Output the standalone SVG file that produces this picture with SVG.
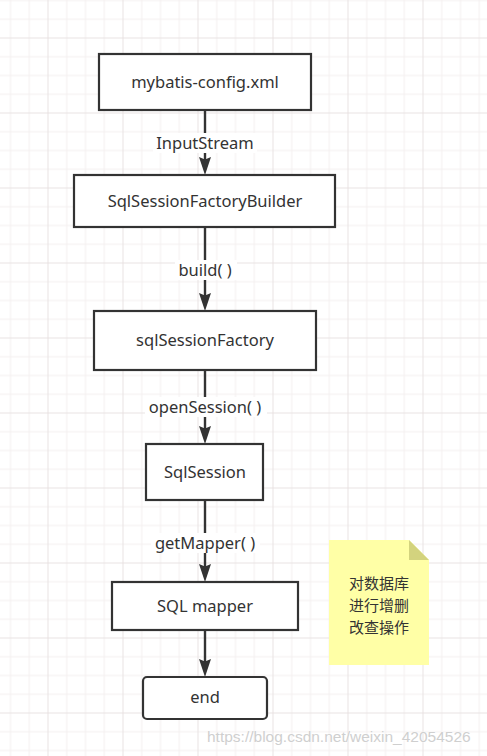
<svg xmlns="http://www.w3.org/2000/svg" xmlns:xlink="http://www.w3.org/1999/xlink" width="487" height="756" viewBox="0 0 487 756">
  <style>
    .box { fill: #ffffff; stroke: #333333; stroke-width: 2.2; }
    .lbl { font-family: "Noto Sans", "Open Sans", sans-serif; font-size: 16.5px; fill: #333333; text-anchor: middle; }
    .edge { stroke: #333333; stroke-width: 2.4; fill: none; }
    .lblbg { fill: #ffffff; }
    .ah { fill: #333333; }
    .note { fill: #ffffa6; }
    .fold { fill: #d3d37e; }
    .cjk { font-family: "Noto Sans CJK SC", "Noto Sans", sans-serif; font-size: 15px; fill: #333333; text-anchor: middle; }
    .wm { font-family: "Liberation Sans", Arial, sans-serif; font-size: 15.5px; fill: #cfcfcf; stroke: #ffffff; stroke-width: 0.6; paint-order: stroke; }
  </style>
  <defs>
    <pattern id="grid" patternUnits="userSpaceOnUse" x="47.5" y="37.5" width="75" height="75">
      <rect x="0" y="0" width="75" height="75" fill="#ffffff"/>
      <rect x="18.75" y="0" width="1" height="75" fill="#f4efef"/>
      <rect x="37.5" y="0" width="1" height="75" fill="#f4efef"/>
      <rect x="56.25" y="0" width="1" height="75" fill="#f4efef"/>
      <rect x="0" y="18.75" width="75" height="1" fill="#f4efef"/>
      <rect x="0" y="37.5" width="75" height="1" fill="#f4efef"/>
      <rect x="0" y="56.25" width="75" height="1" fill="#f4efef"/>
      <rect x="0" y="0" width="1" height="75" fill="#e8e2e2"/>
      <rect x="0" y="0" width="75" height="1" fill="#e8e2e2"/>
    </pattern>
    <path id="arrowhead" class="ah" d="M0,0 L-6,-18 L0,-15.5 L6,-18 Z"/>
  </defs>

  <rect x="0" y="0" width="487" height="756" fill="url(#grid)"/>

  <g id="connectors">
    <line class="edge" x1="205" y1="111" x2="205" y2="162"/>
    <use xlink:href="#arrowhead" x="205" y="175"/>
    <rect class="lblbg" x="153" y="133" width="104" height="20"/>
    <text class="lbl" x="205" y="149">InputStream</text>

    <line class="edge" x1="205" y1="228" x2="205" y2="298"/>
    <use xlink:href="#arrowhead" x="205" y="311"/>
    <rect class="lblbg" x="175" y="260" width="62" height="20"/>
    <text class="lbl" x="205" y="276">build( )</text>

    <line class="edge" x1="205" y1="371" x2="205" y2="431"/>
    <use xlink:href="#arrowhead" x="205" y="444"/>
    <rect class="lblbg" x="145" y="397" width="122" height="20"/>
    <text class="lbl" x="205" y="413">openSession( )</text>

    <line class="edge" x1="205" y1="501" x2="205" y2="569"/>
    <use xlink:href="#arrowhead" x="205" y="582"/>
    <rect class="lblbg" x="151" y="533" width="109" height="20"/>
    <text class="lbl" x="205" y="549">getMapper( )</text>

    <line class="edge" x1="205" y1="631" x2="205" y2="664"/>
    <use xlink:href="#arrowhead" x="205" y="677"/>
  </g>

  <g id="node-config">
    <rect class="box" x="99" y="54" width="212" height="56"/>
    <text class="lbl" x="205" y="88">mybatis-config.xml</text>
  </g>

  <g id="node-builder">
    <rect class="box" x="74" y="175" width="261" height="52"/>
    <text class="lbl" x="205" y="207">SqlSessionFactoryBuilder</text>
  </g>

  <g id="node-factory">
    <rect class="box" x="94" y="311" width="222" height="59"/>
    <text class="lbl" x="205" y="346">sqlSessionFactory</text>
  </g>

  <g id="node-session">
    <rect class="box" x="146" y="444" width="117" height="56"/>
    <text class="lbl" x="205" y="478">SqlSession</text>
  </g>

  <g id="node-mapper">
    <rect class="box" x="112" y="582" width="186" height="48"/>
    <text class="lbl" x="205" y="612">SQL mapper</text>
  </g>

  <g id="node-end">
    <rect class="box" x="143" y="677" width="124" height="42" rx="4" ry="4"/>
    <text class="lbl" x="205" y="703">end</text>
  </g>

  <g id="note">
    <path class="note" d="M329,540 L409,540 L429,560 L429,665 L329,665 Z"/>
    <path class="fold" d="M409,540 L429,560 L409,560 Z"/>
    <text class="cjk" x="379" y="589">对数据库</text>
    <text class="cjk" x="379" y="611">进行增删</text>
    <text class="cjk" x="379" y="633">改查操作</text>
  </g>

  <text class="wm" x="207" y="742">https://blog.csdn.net/weixin_42054526</text>
</svg>
